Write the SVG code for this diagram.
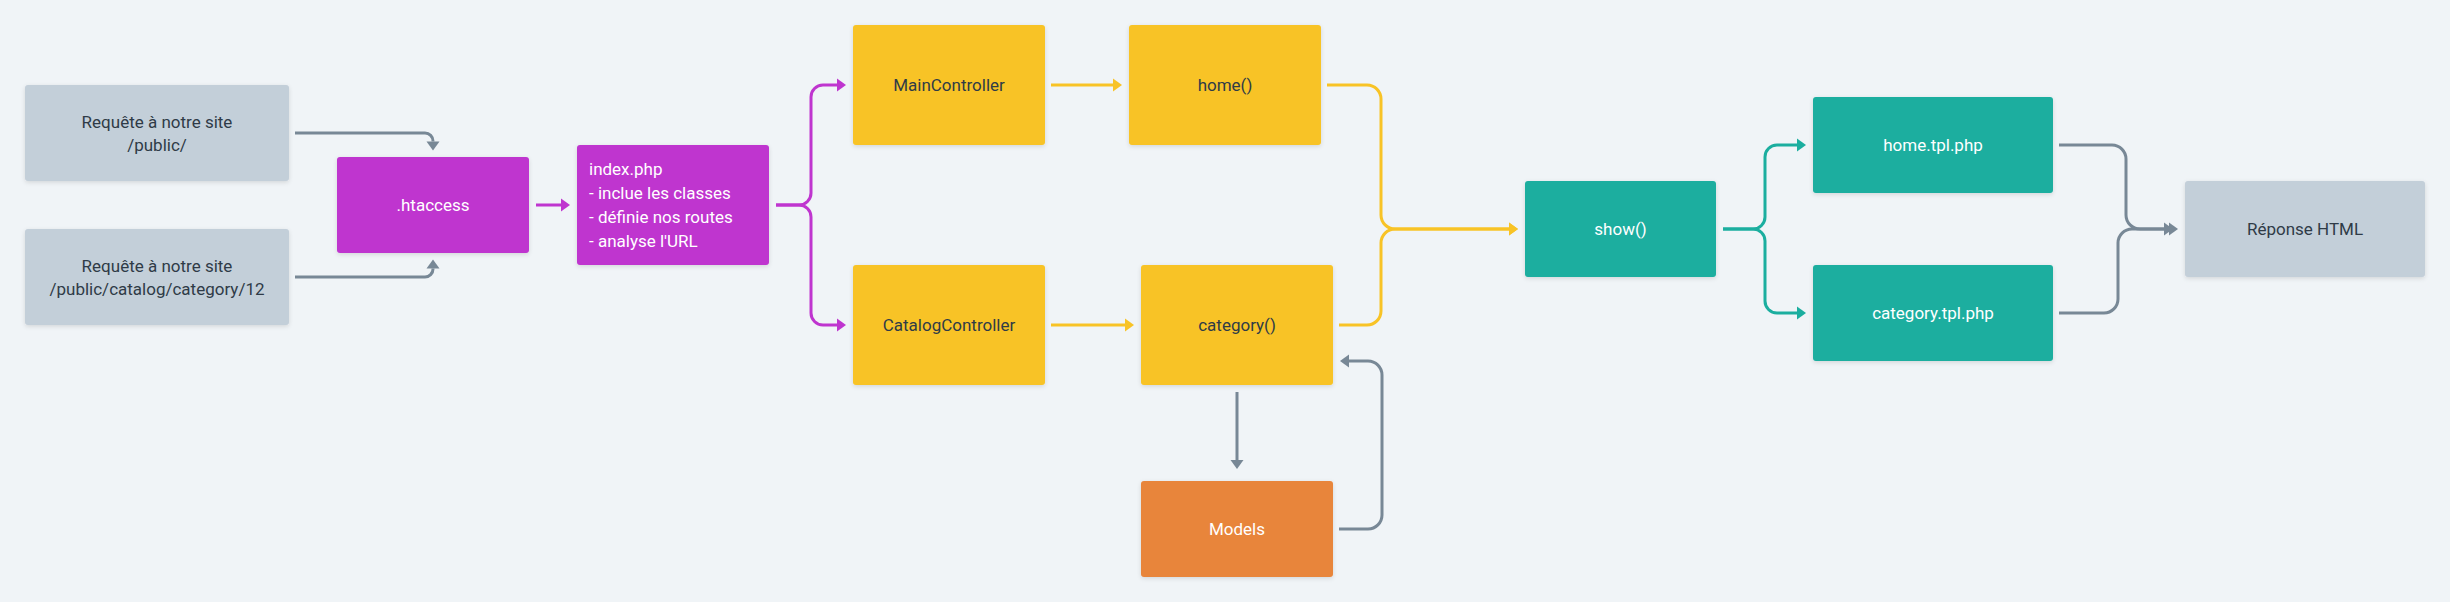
<svg xmlns="http://www.w3.org/2000/svg" width="2450" height="602" viewBox="0 0 2450 602">
<style>
  .t { font-family: Roboto, "Liberation Sans", sans-serif; font-size: 17px; }
  .dk { fill: #2f3b47; }
  .wh { fill: #ffffff; }
  .c { text-anchor: middle; }
  .grey { fill: #c3cfd9; }
  .purple { fill: #bf35cf; }
  .yellow { fill: #f8c326; }
  .teal { fill: #1bae9f; }
  .orange { fill: #e8853b; }
  .ln { fill: none; stroke-width: 3; }
  .lg { stroke: #788896; }
  .lp { stroke: #bf35cf; }
  .ly { stroke: #f8c326; }
  .lt { stroke: #1bae9f; }
</style>
<defs>
  <filter id="sh" x="-10%" y="-10%" width="120%" height="130%">
    <feDropShadow dx="0" dy="1.5" stdDeviation="2" flood-color="#000" flood-opacity="0.12"/>
  </filter>
  <marker id="ag" markerUnits="userSpaceOnUse" markerWidth="10" markerHeight="14" refX="0" refY="6.5" orient="auto" overflow="visible"><path d="M0,0 L9,6.5 L0,13 z" fill="#788896"/></marker>
  <marker id="ap" markerUnits="userSpaceOnUse" markerWidth="10" markerHeight="14" refX="0" refY="6.5" orient="auto" overflow="visible"><path d="M0,0 L9,6.5 L0,13 z" fill="#bf35cf"/></marker>
  <marker id="ay" markerUnits="userSpaceOnUse" markerWidth="10" markerHeight="14" refX="0" refY="6.5" orient="auto" overflow="visible"><path d="M0,0 L9,6.5 L0,13 z" fill="#f8c326"/></marker>
  <marker id="at" markerUnits="userSpaceOnUse" markerWidth="10" markerHeight="14" refX="0" refY="6.5" orient="auto" overflow="visible"><path d="M0,0 L9,6.5 L0,13 z" fill="#1bae9f"/></marker>
</defs>
<rect x="0" y="0" width="2450" height="602" fill="#f0f4f7"/>

<g id="connectors">
  <path class="ln lg" d="M295,133 H425 A8,8 0 0 1 433,141 V141.5" marker-end="url(#ag)"/>
  <path class="ln lg" d="M295,277 H425 A8,8 0 0 0 433,269 V268.5" marker-end="url(#ag)"/>
  <path class="ln lp" d="M536,205 H561" marker-end="url(#ap)"/>
  <path class="ln lp" d="M776,205 H799 A12,12 0 0 0 811,193 V97 A12,12 0 0 1 823,85 H837" marker-end="url(#ap)"/>
  <path class="ln lp" d="M776,205 H799 A12,12 0 0 1 811,217 V313 A12,12 0 0 0 823,325 H837" marker-end="url(#ap)"/>
  <path class="ln ly" d="M1051,85 H1113" marker-end="url(#ay)"/>
  <path class="ln ly" d="M1051,325 H1125" marker-end="url(#ay)"/>
  <path class="ln ly" d="M1327,85 H1367 A14,14 0 0 1 1381,99 V215 A14,14 0 0 0 1395,229 H1509" marker-end="url(#ay)"/>
  <path class="ln ly" d="M1339,325 H1367 A14,14 0 0 0 1381,311 V243 A14,14 0 0 1 1395,229 H1509" marker-end="url(#ay)"/>
  <path class="ln lt" d="M1723,229 H1753 A12,12 0 0 0 1765,217 V157 A12,12 0 0 1 1777,145 H1797" marker-end="url(#at)"/>
  <path class="ln lt" d="M1723,229 H1753 A12,12 0 0 1 1765,241 V301 A12,12 0 0 0 1777,313 H1797" marker-end="url(#at)"/>
  <path class="ln lg" d="M2059,145 H2112 A14,14 0 0 1 2126,159 V215 A14,14 0 0 0 2140,229 H2164" marker-end="url(#ag)"/>
  <path class="ln lg" d="M2059,313 H2104 A14,14 0 0 0 2118,299 V243 A14,14 0 0 1 2132,229 H2169" marker-end="url(#ag)"/>
  <path class="ln lg" d="M1237,392 V460" marker-end="url(#ag)"/>
  <path class="ln lg" d="M1339,529 H1368 A14,14 0 0 0 1382,515 V375 A14,14 0 0 0 1368,361 H1349" marker-end="url(#ag)"/>
</g>

<g id="req1">
  <rect class="grey" x="25" y="85" width="264" height="96" rx="3" filter="url(#sh)"/>
  <text class="t dk c" x="157" y="127.5">Requête à notre site</text>
  <text class="t dk c" x="157" y="151">/public/</text>
</g>
<g id="req2">
  <rect class="grey" x="25" y="229" width="264" height="96" rx="3" filter="url(#sh)"/>
  <text class="t dk c" x="157" y="271.5">Requête à notre site</text>
  <text class="t dk c" x="157" y="295">/public/catalog/category/12</text>
</g>
<g id="htaccess">
  <rect class="purple" x="337" y="157" width="192" height="96" rx="3" filter="url(#sh)"/>
  <text class="t wh c" x="433" y="211">.htaccess</text>
</g>
<g id="index">
  <rect class="purple" x="577" y="145" width="192" height="120" rx="3" filter="url(#sh)"/>
  <text class="t wh" x="589" y="175">index.php</text>
  <text class="t wh" x="589" y="199">- inclue les classes</text>
  <text class="t wh" x="589" y="223">- définie nos routes</text>
  <text class="t wh" x="589" y="247">- analyse l'URL</text>
</g>
<g id="maincontroller">
  <rect class="yellow" x="853" y="25" width="192" height="120" rx="3" filter="url(#sh)"/>
  <text class="t dk c" x="949" y="91">MainController</text>
</g>
<g id="home">
  <rect class="yellow" x="1129" y="25" width="192" height="120" rx="3" filter="url(#sh)"/>
  <text class="t dk c" x="1225" y="91">home()</text>
</g>
<g id="catalogcontroller">
  <rect class="yellow" x="853" y="265" width="192" height="120" rx="3" filter="url(#sh)"/>
  <text class="t dk c" x="949" y="331">CatalogController</text>
</g>
<g id="category">
  <rect class="yellow" x="1141" y="265" width="192" height="120" rx="3" filter="url(#sh)"/>
  <text class="t dk c" x="1237" y="331">category()</text>
</g>
<g id="models">
  <rect class="orange" x="1141" y="481" width="192" height="96" rx="3" filter="url(#sh)"/>
  <text class="t wh c" x="1237" y="535">Models</text>
</g>
<g id="show">
  <rect class="teal" x="1525" y="181" width="191" height="96" rx="3" filter="url(#sh)"/>
  <text class="t wh c" x="1620.5" y="235">show()</text>
</g>
<g id="hometpl">
  <rect class="teal" x="1813" y="97" width="240" height="96" rx="3" filter="url(#sh)"/>
  <text class="t wh c" x="1933" y="151">home.tpl.php</text>
</g>
<g id="categorytpl">
  <rect class="teal" x="1813" y="265" width="240" height="96" rx="3" filter="url(#sh)"/>
  <text class="t wh c" x="1933" y="319">category.tpl.php</text>
</g>
<g id="reponse">
  <rect class="grey" x="2185" y="181" width="240" height="96" rx="3" filter="url(#sh)"/>
  <text class="t dk c" x="2305" y="235">Réponse HTML</text>
</g>
</svg>
